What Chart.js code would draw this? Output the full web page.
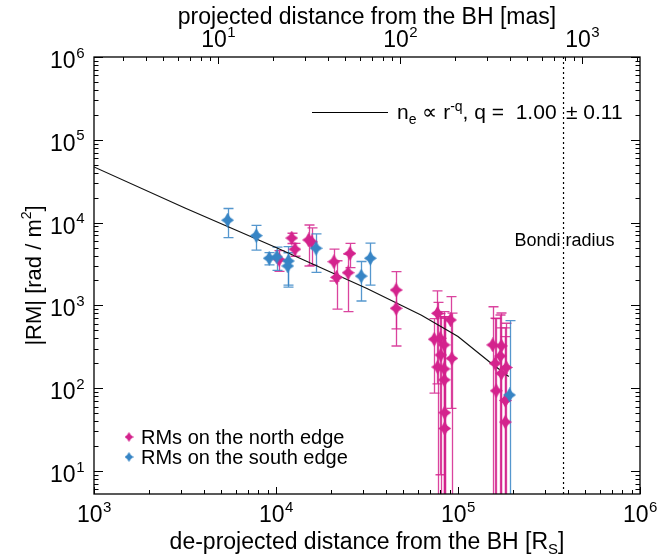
<!DOCTYPE html>
<html><head><meta charset="utf-8">
<script src="https://cdn.jsdelivr.net/npm/chart.js@4.4.1/dist/chart.umd.min.js"></script>
<style>html,body{margin:0;padding:0;background:#fff;}canvas{display:block;}</style>
</head><body>
<canvas id="c" width="660" height="560"></canvas>
<script>
// ---- data ----
const northX   = [10400, 12200, 12700, 15100, 15700, 20800, 21500, 25500, 24900, 45700, 45700,
                  77100, 91000, 74000, 79800, 83800, 80400, 92400, 77300, 83800, 84100, 84500, 84500,
                  155000, 173000, 171000, 160000, 184000, 173000, 162000, 182000, 182000];
const northY   = [3580, 6510, 4770, 6170, 5840, 3370, 2180, 4240, 2480, 1535, 923,
                  803, 667, 390, 401, 333, 252, 229, 180, 171, 126, 50.6, 32.6,
                  333, 324, 245, 199, 178, 151, 93, 71, 39];
const northErr = [1000, 920, 850, 3180, 2770, 1400, 1280, 1380, 1640, 1015, 600,
                  690, 610, 303, 392, 506, 480, 575, 910, 530, 600, 650, 700,
                  630, 485, 520, 500, 430, 383, 600, 348, 495];
const southX   = [5420, 7790, 9180, 10100, 11700, 11600, 16600, 29400, 33000, 192000];
const southY   = [10700, 6950, 3710, 3850, 3440, 2990, 4900, 2260, 3710, 82.8];
const southErr = [4100, 2300, 620, 1200, 1680, 1330, 2400, 1130, 1950, 570];
const fitX     = [1e3, 3.16e3, 1e4, 3.16e4, 6.3e4, 1e5, 1.48e5, 1.9e5];
const fitY     = [4.7e4, 1.5e4, 5.0e3, 1.6e3, 7.6e2, 4.2e2, 2.1e2, 1.38e2];
const bondiX   = 3.8e5;
const masToRs  = 481.4;          // 1 mas in Schwarzschild radii (top axis)
const xMajorExp   = [3, 4, 5, 6];
const yMajorExp   = [1, 2, 3, 4, 5, 6];
const topMajorExp = [1, 2, 3];
const xMin = 1e3, xMax = 1e6, yMin = 5.27, yMax = 1e6;

const MAG = '#d4238d', BLU = '#3785c5';
const FONT = '"Liberation Sans", Arial, Helvetica, sans-serif';

function makeStar(color, w, h, inner) {
  const c = document.createElement('canvas'); c.width = w; c.height = h;
  const g = c.getContext('2d'); const cx = w / 2, cy = h / 2;
  g.fillStyle = color; g.beginPath();
  g.moveTo(cx, 0); g.lineTo(cx + inner, cy - inner); g.lineTo(w, cy);
  g.lineTo(cx + inner, cy + inner); g.lineTo(cx, h); g.lineTo(cx - inner, cy + inner);
  g.lineTo(0, cy); g.lineTo(cx - inner, cy - inner); g.closePath(); g.fill();
  return c;
}
const starN = makeStar(MAG, 13, 15, 2.7), starS = makeStar(BLU, 13, 15, 2.7);
const starNs = makeStar(MAG, 9, 10, 1.9), starSs = makeStar(BLU, 9, 10, 1.9);

function pts(xs, ys) { return xs.map((x, i) => ({ x: x, y: ys[i] })); }

function powWidth(ctx, base, exp, big, small) {
  ctx.font = big + 'px ' + FONT; const w1 = ctx.measureText(base).width;
  ctx.font = small + 'px ' + FONT; const w2 = ctx.measureText(exp).width;
  return [w1, w2];
}
function drawPow(ctx, base, exp, x, y, align, big, small) {
  const [w1, w2] = powWidth(ctx, base, exp, big, small);
  let x0 = x;
  if (align === 'center') x0 = x - (w1 + w2) / 2; else if (align === 'right') x0 = x - w1 - w2;
  ctx.textAlign = 'left'; ctx.textBaseline = 'alphabetic';
  ctx.font = big + 'px ' + FONT; ctx.fillText(base, x0, y);
  ctx.font = small + 'px ' + FONT; ctx.fillText(exp, x0 + w1 + 0.5, y - big * 0.45);
}
function drawRuns(ctx, runs, x, y) {
  ctx.textAlign = 'left'; ctx.textBaseline = 'alphabetic';
  let cx = x;
  runs.forEach(r => { ctx.font = r[1] + 'px ' + FONT; ctx.fillText(r[0], cx, y + (r[2] || 0)); cx += ctx.measureText(r[0]).width; });
  return cx;
}
function runsWidth(ctx, runs) { let w = 0; runs.forEach(r => { ctx.font = r[1] + 'px ' + FONT; w += ctx.measureText(r[0]).width; }); return w; }

function logTicks(min, max) {
  const out = [];
  for (let e = Math.floor(Math.log10(min)); e <= Math.ceil(Math.log10(max)); e++) {
    for (let m = 1; m < 10; m++) { const v = m * Math.pow(10, e); if (v >= min * 0.9999 && v <= max * 1.0001) out.push({ v: v, major: m === 1 }); }
  }
  return out;
}

const custom = {
  id: 'custom',
  beforeDatasetsDraw(chart) {
    const { ctx, chartArea: a, scales } = chart; const xs = scales.x, ys = scales.y;
    ctx.save(); ctx.beginPath(); ctx.rect(a.left, a.top, a.right - a.left, a.bottom - a.top); ctx.clip();
    ctx.lineWidth = 1.3;
    const drawSet = (X, Y, E, col) => {
      ctx.strokeStyle = col; ctx.globalAlpha = 0.85;
      X.forEach((x, i) => {
        const px = Math.round(xs.getPixelForValue(x)) + 0.5;
        const top = ys.getPixelForValue(Y[i] + E[i]);
        const lo = Y[i] - E[i];
        const bot = lo > 0 ? ys.getPixelForValue(lo) : a.bottom + 5;
        ctx.beginPath(); ctx.moveTo(px, top); ctx.lineTo(px, bot);
        ctx.moveTo(px - 5, top); ctx.lineTo(px + 5, top);
        if (lo > 0) { ctx.moveTo(px - 5, bot); ctx.lineTo(px + 5, bot); }
        ctx.stroke();
      });
    };
    drawSet(northX, northY, northErr, MAG);
    drawSet(southX, southY, southErr, BLU);
    ctx.restore();
  },
  afterDraw(chart) {
    const { ctx, chartArea: a, scales } = chart; const xs = scales.x, ys = scales.y, xt = scales.x2;
    ctx.save();
    ctx.strokeStyle = '#000'; ctx.fillStyle = '#000'; ctx.lineWidth = 1.3;
    ctx.strokeRect(a.left, a.top, a.right - a.left, a.bottom - a.top);
    ctx.lineWidth = 1;
    logTicks(xMin, xMax).forEach(t => {
      const px = Math.round(xs.getPixelForValue(t.v)) + 0.5; const L = t.major ? 7 : 4;
      ctx.beginPath(); ctx.moveTo(px, a.bottom); ctx.lineTo(px, a.bottom - L); ctx.stroke();
    });
    logTicks(xt.min, xt.max).forEach(t => {
      const px = Math.round(xt.getPixelForValue(t.v)) + 0.5; const L = t.major ? 7 : 4;
      ctx.beginPath(); ctx.moveTo(px, a.top); ctx.lineTo(px, a.top + L); ctx.stroke();
    });
    logTicks(yMin, yMax).forEach(t => {
      const py = Math.round(ys.getPixelForValue(t.v)) + 0.5; const L = t.major ? 9 : 4.5;
      ctx.beginPath(); ctx.moveTo(a.left, py); ctx.lineTo(a.left + L, py);
      ctx.moveTo(a.right, py); ctx.lineTo(a.right - L, py); ctx.stroke();
    });
    xMajorExp.forEach(e => drawPow(ctx, '10', String(e), xs.getPixelForValue(Math.pow(10, e)), 522, 'center', 23, 15));
    topMajorExp.forEach(e => drawPow(ctx, '10', String(e), xt.getPixelForValue(Math.pow(10, e)), 47, 'center', 23, 15));
    yMajorExp.forEach(e => drawPow(ctx, '10', String(e), 84, ys.getPixelForValue(Math.pow(10, e)) + 11, 'right', 23, 15));
    const bt = [['de-projected distance from the BH [R', 23], ['S', 15, 5], [']', 23]];
    drawRuns(ctx, bt, (a.left + a.right) / 2 - runsWidth(ctx, bt) / 2, 549);
    ctx.font = '23px ' + FONT; ctx.textAlign = 'center'; ctx.textBaseline = 'alphabetic';
    ctx.fillText('projected distance from the BH [mas]', (a.left + a.right) / 2, 24);
    ctx.save(); ctx.translate(41, (a.top + a.bottom) / 2); ctx.rotate(-Math.PI / 2);
    const yt = [['|RM| [rad / m', 22], ['2', 14, -10], [']', 22]];
    drawRuns(ctx, yt, -runsWidth(ctx, yt) / 2, 0);
    ctx.restore();
    ctx.lineWidth = 1.2; ctx.beginPath(); ctx.moveTo(312, 112.5); ctx.lineTo(388, 112.5); ctx.stroke();
    drawRuns(ctx, [['n', 21], ['e', 14, 5], [' \u221d r', 21], ['-q', 14, -8], [', q =  1.00', 21]], 397, 119);
    drawRuns(ctx, [['\u00b1 0.11', 21]], 566, 119);
    ctx.font = '18px ' + FONT; ctx.textAlign = 'center'; ctx.fillText('Bondi radius', xs.getPixelForValue(bondiX) + 1, 246);
    ctx.drawImage(starNs, 129 - starNs.width / 2, 437 - starNs.height / 2);
    ctx.drawImage(starSs, 129 - starSs.width / 2, 457 - starSs.height / 2);
    ctx.font = '20px ' + FONT; ctx.textAlign = 'left';
    ctx.fillText('RMs on the north edge', 141, 444);
    ctx.fillText('RMs on the south edge', 141, 464);
    ctx.restore();
  }
};

new Chart(document.getElementById('c').getContext('2d'), {
  type: 'scatter',
  data: {
    datasets: [
      { label: 'fit', type: 'line', data: pts(fitX, fitY), borderColor: '#111', borderWidth: 1.2, pointRadius: 0, fill: false, tension: 0, order: 3 },
      { label: 'bondi', type: 'line', data: [{ x: bondiX, y: yMin }, { x: bondiX, y: yMax }], borderColor: '#000', borderWidth: 1.2, borderDash: [2, 3], pointRadius: 0, fill: false, order: 4 },
      { label: 'RMs on the north edge', data: pts(northX, northY), pointStyle: starN, pointRadius: 6, backgroundColor: MAG, borderColor: MAG, order: 2 },
      { label: 'RMs on the south edge', data: pts(southX, southY), pointStyle: starS, pointRadius: 6, backgroundColor: BLU, borderColor: BLU, order: 1 }
    ]
  },
  options: {
    responsive: false, animation: false, devicePixelRatio: 1,
    layout: { padding: { left: 94, right: 20, top: 57, bottom: 66 } },
    plugins: { legend: { display: false }, tooltip: { enabled: false } },
    scales: {
      x:  { type: 'logarithmic', min: xMin, max: xMax, ticks: { display: false }, grid: { display: false, drawTicks: false }, border: { display: false } },
      x2: { type: 'logarithmic', position: 'top', min: xMin / masToRs, max: xMax / masToRs, ticks: { display: false }, grid: { display: false, drawTicks: false }, border: { display: false } },
      y:  { type: 'logarithmic', min: yMin, max: yMax, ticks: { display: false }, grid: { display: false, drawTicks: false }, border: { display: false } }
    }
  },
  plugins: [custom]
});
</script>
</body></html>
